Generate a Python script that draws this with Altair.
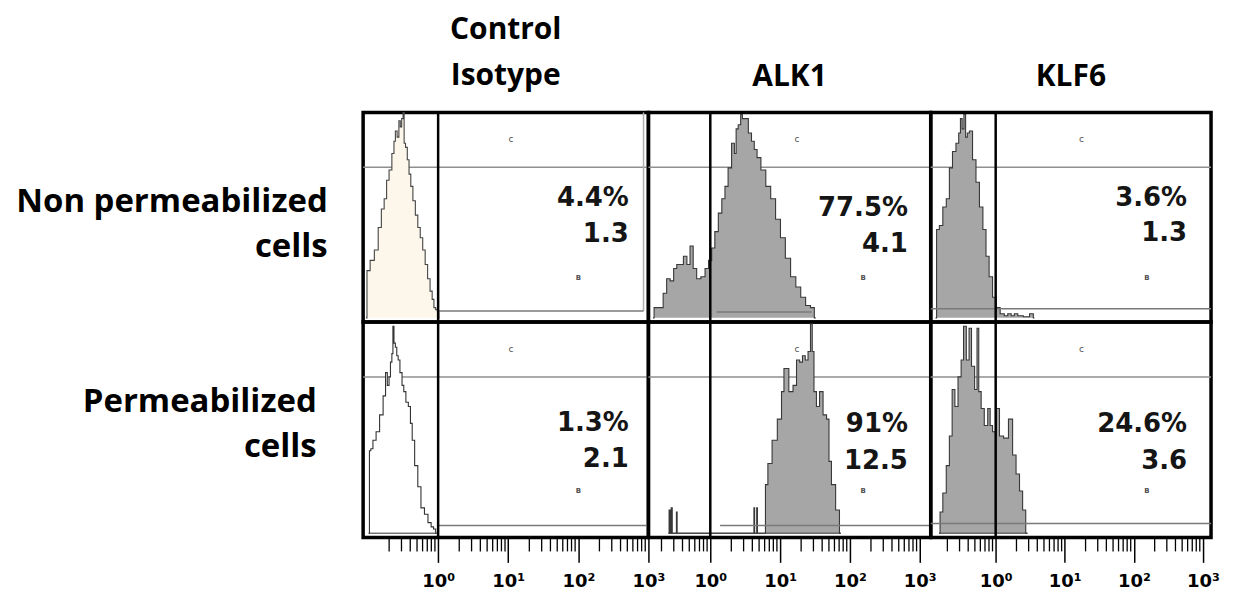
import altair as alt
import pandas as pd

# ---------------- text ----------------
col_titles = [["Control", "Isotype"], "ALK1", "KLF6"]
row_titles = [["Non permeabilized", "cells"], ["Permeabilized", "cells"]]
pct_text = [["4.4%", "77.5%", "3.6%"], ["1.3%", "91%", "24.6%"]]
mfi_text = [["1.3", "4.1", "1.3"], ["2.1", "12.5", "3.6"]]
major_ticks = [1, 10, 100, 1000]
major_labels = ["10\u2070", "10\u00b9", "10\u00b2", "10\u00b3"]
minor_ticks = [0.2, 0.3, 0.4, 0.5, 0.6, 0.7, 0.8, 0.9,
               2, 3, 4, 5, 6, 7, 8, 9,
               20, 30, 40, 50, 60, 70, 80, 90,
               200, 300, 400, 500, 600, 700, 800, 900]

# ---------------- histograms: log10 fluorescence, % of max count ----------------
ctrl_np_log = [-1.03, -1.0, -0.94, -0.88, -0.83, -0.79, -0.75, -0.72, -0.68, -0.64,
               -0.62, -0.60, -0.57, -0.55, -0.53, -0.51, -0.49, -0.48, -0.45, -0.43,
               -0.40, -0.38, -0.34, -0.31, -0.27, -0.24, -0.20, -0.17, -0.13, -0.10,
               -0.07, -0.05, -0.02, 0.0, 0.02]
ctrl_np_cnt = [0, 23, 28, 33, 44, 53, 58, 67, 72, 80,
               86, 91, 88, 96, 93, 97, 100, 85, 83, 77,
               70, 64, 57, 50, 44, 39, 33, 26, 19, 13,
               9, 5, 4, 3, 0]

alk1_np_log = [-0.82, -0.79, -0.70, -0.65, -0.60, -0.55, -0.50, -0.46, -0.41, -0.36,
               -0.31, -0.27, -0.22, -0.17, -0.10, -0.05, 0.0, 0.04, 0.09, 0.14,
               0.19, 0.23, 0.28, 0.33, 0.36, 0.38, 0.42, 0.45, 0.47, 0.52,
               0.57, 0.61, 0.65, 0.69, 0.76, 0.83, 0.90, 0.97, 1.04, 1.11,
               1.19, 1.26, 1.33, 1.40, 1.47, 1.51]
alk1_np_cnt = [0, 5, 5, 12, 19, 18, 24, 26, 26, 30,
               26, 35, 24, 19, 20, 24, 28, 34, 42, 51,
               58, 64, 73, 85, 80, 92, 94, 99, 97, 97,
               90, 86, 82, 78, 72, 64, 58, 48, 39, 29,
               20, 15, 10, 6, 5, 0]

klf6_np_log = [-0.87, -0.84, -0.79, -0.74, -0.69, -0.65, -0.60, -0.55, -0.52, -0.50,
               -0.47, -0.45, -0.42, -0.40, -0.36, -0.31, -0.26, -0.21, -0.16, -0.12,
               -0.07, -0.02, 0.03, 0.10, 0.15, 0.20, 0.25, 0.29, 0.35, 0.45,
               0.53, 0.56]
klf6_np_cnt = [0, 43, 45, 54, 58, 73, 81, 85, 90, 97,
               92, 99, 88, 90, 91, 77, 66, 54, 43, 30,
               20, 10, 5, 2, 1, 2, 1, 2, 1, 0.5,
               2, 0]

ctrl_p_log = [-0.99, -0.97, -0.95, -0.91, -0.86, -0.81, -0.76, -0.74, -0.71, -0.69,
              -0.67, -0.65, -0.64, -0.62, -0.60, -0.58, -0.56, -0.53, -0.50, -0.48,
              -0.44, -0.41, -0.38, -0.36, -0.31, -0.27, -0.22, -0.17, -0.12, -0.08,
              -0.05, -0.02]
ctrl_p_cnt = [0, 39, 40, 44, 48, 56, 65, 76, 70, 74,
              81, 85, 98, 90, 88, 84, 82, 76, 70, 67,
              62, 60, 52, 44, 32, 22, 12, 9, 5, 3,
              2, 0]

alk1_p_log = [-0.60, -0.58, -0.57, -0.55, -0.54, -0.49, -0.48, -0.47, 0.62, 0.63,
              0.64, 0.66, 0.67, 0.68, 0.78, 0.80, 0.85, 0.92, 1.00, 1.04,
              1.07, 1.11, 1.14, 1.16, 1.21, 1.26, 1.30, 1.34, 1.38, 1.42,
              1.45, 1.47, 1.50, 1.54, 1.59, 1.64, 1.69, 1.71, 1.76, 1.83,
              1.87]
alk1_p_cnt = [0, 11, 0, 12, 0, 0, 10, 0, 0, 12,
              0, 0, 12, 0, 0, 23, 33, 44, 54, 67,
              78, 78, 67, 67, 70, 82, 81, 84, 82, 86,
              99, 86, 67, 60, 67, 56, 54, 34, 23, 11,
              0]

klf6_p_log = [-0.82, -0.79, -0.74, -0.69, -0.65, -0.61, -0.57, -0.52, -0.48, -0.45,
              -0.40, -0.37, -0.33, -0.28, -0.26, -0.23, -0.19, -0.14, -0.09, -0.07,
              -0.02, 0.03, 0.08, 0.15, 0.22, 0.27, 0.32, 0.37, 0.41, 0.46]
klf6_p_cnt = [0, 10, 19, 32, 46, 68, 60, 74, 82, 98,
              82, 97, 79, 68, 97, 67, 59, 51, 59, 51,
              48, 59, 46, 45, 54, 37, 28, 20, 11, 0]

hist_log = [[ctrl_np_log, alk1_np_log, klf6_np_log], [ctrl_p_log, alk1_p_log, klf6_p_log]]
hist_cnt = [[ctrl_np_cnt, alk1_np_cnt, klf6_np_cnt], [ctrl_p_cnt, alk1_p_cnt, klf6_p_cnt]]

# ---------------- layout / style ----------------
COL_W = [286, 283, 281]
ROW_H = [210, 216]
COL_LOG = [(-1.07, 3.0), (-0.886, 3.157), (-0.94, 3.117)]
FILL = [["#FDF6EA", "#A6A6A6", "#A6A6A6"], ["#FFFFFF", "#A6A6A6", "#A6A6A6"]]
EDGE = [["#444444", "#383838", "#383838"], ["#333333", "#383838", "#383838"]]
ROW_TX = [-36, -47]
ROW_TY = [89, 80]
C_Y = [73.3, 74.0]
CLAB_X = [1.04, 1.24, 1.24]
CLAB_Y = [86.9, 87.3]
BLAB_X = [2.0, 2.19, 2.19]
BLAB_Y = [19.4, 20.2]
BGATE = [[(0.0, 2.93, 3.3), (0.09, 1.45, 2.9), (-0.94, 3.117, 4.4)],
         [(0.0, 2.97, 3.7), (0.14, 3.157, 3.7), (-0.94, 3.117, 4.6)]]
PCT_X = [2.72, 2.83, 2.77]
PCT_Y = [[58.2, 53.4, 58.2], [52.3, 51.8, 51.8]]
MFI_Y = [[40.7, 35.9, 41.2], [35.3, 34.4, 34.4]]
GATE_GRAY = "#8f8f8f"

label_expr = " : ".join(
    [f"datum.value == {v} ? '{t}'" for v, t in zip(major_ticks[:-1], major_labels[:-1])]
) + f" : '{major_labels[-1]}'"


def panel(r, c):
    w, h = COL_W[c], ROW_H[r]
    lo, hi = COL_LOG[c]
    xs = alt.Scale(type="log", domain=[10 ** lo, 10 ** hi], nice=False)
    ys = alt.Scale(domain=[-2, 100], nice=False, zero=False)
    if r == 1:
        xax = alt.Axis(values=major_ticks, labelExpr=label_expr, tickSize=25, tickWidth=1.5,
                       tickColor="black", domain=False, grid=False, labelFont="DejaVu Sans",
                       labelFontWeight="bold", labelFontSize=18, labelColor="black",
                       labelPadding=10, labelFlush=False, labelOverlap=False, title=None)
    else:
        xax = None
    if c == 0:
        yax = alt.Axis(title=row_titles[r], titleAngle=0, titleAlign="right",
                       titleBaseline="middle", titleX=ROW_TX[r], titleY=ROW_TY[r],
                       titleFont="Open Sans", titleFontSize=33, titleFontWeight="bold",
                       titleColor="black", titleLineHeight=45, ticks=False, labels=False,
                       domain=False, grid=False)
    else:
        yax = None

    def xe():
        return alt.X("x:Q", scale=xs, axis=xax)

    def ye():
        return alt.Y("y:Q", scale=ys, axis=yax)

    layers = []
    # upper gate line (behind histogram)
    layers.append(alt.Chart(pd.DataFrame({"y": [C_Y[r]]})).mark_rule(
        color=GATE_GRAY, strokeWidth=1.5).encode(y=ye()))
    b0, b1, bl = BGATE[r][c]
    if r == 0 and c == 0:
        layers.append(alt.Chart(pd.DataFrame({"x": [10 ** 2.93], "y": [bl], "y2": [100]})).mark_rule(
            color="#b0b0b0", strokeWidth=1.5).encode(x=xe(), y=ye(), y2="y2:Q"))
    # histogram
    hd = pd.DataFrame({"x": [10 ** v for v in hist_log[r][c]], "y": hist_cnt[r][c]})
    hd["y0"] = 0
    layers.append(alt.Chart(hd).mark_area(interpolate="step", color=FILL[r][c], opacity=1).encode(
        x=xe(), y=ye(), y2="y0:Q"))
    layers.append(alt.Chart(hd).mark_line(interpolate="step", color=EDGE[r][c], strokeWidth=1.1).encode(
        x=xe(), y=ye()))
    if r == 1:
        layers.append(alt.Chart(pd.DataFrame({"x": [hd["x"].min()], "x2": [hd["x"].max()], "y": [0]})).mark_rule(
            color=EDGE[r][c], strokeWidth=1).encode(x=xe(), x2="x2:Q", y=ye()))
    # lower gate line (over histogram)
    layers.append(alt.Chart(pd.DataFrame({"x": [10 ** b0], "x2": [10 ** b1], "y": [bl]})).mark_rule(
        color="#7a7a7a", strokeWidth=1.5).encode(x=xe(), x2="x2:Q", y=ye()))
    # 10^0 marker
    layers.append(alt.Chart(pd.DataFrame({"x": [1]})).mark_rule(color="black", strokeWidth=2.5).encode(x=xe()))
    # gate letters
    layers.append(alt.Chart(pd.DataFrame({"x": [10 ** CLAB_X[c]], "y": [CLAB_Y[r]], "t": ["c"]})).mark_text(
        font="DejaVu Sans", fontSize=9, color="#505050").encode(x=xe(), y=ye(), text="t:N"))
    layers.append(alt.Chart(pd.DataFrame({"x": [10 ** BLAB_X[c]], "y": [BLAB_Y[r]], "t": ["B"]})).mark_text(
        font="DejaVu Sans", fontSize=7, fontWeight="bold", color="#505050").encode(x=xe(), y=ye(), text="t:N"))
    # numbers
    td = pd.DataFrame({"x": [10 ** PCT_X[c]] * 2, "y": [PCT_Y[r][c], MFI_Y[r][c]],
                       "t": [pct_text[r][c], mfi_text[r][c]]})
    layers.append(alt.Chart(td).mark_text(align="right", baseline="middle", font="DejaVu Sans",
                                         fontWeight="bold", fontSize=26, color="#151515").encode(
        x=xe(), y=ye(), text="t:N"))
    if r == 1:
        layers.append(alt.Chart(pd.DataFrame({"x": minor_ticks})).mark_rule(
            color="black", strokeWidth=1.3).encode(x=xe(), y=alt.value(h), y2=alt.value(h + 14)))

    ch = alt.layer(*layers).properties(width=w, height=h)
    if r == 0:
        ch = ch.properties(title=alt.TitleParams(
            text=col_titles[c], font="Open Sans", fontSize=30, fontWeight="bold", color="black",
            anchor="middle", baseline="alphabetic", offset=-5, lineHeight=46))
    return ch


panels = [panel(r, c) for r in range(2) for c in range(3)]
chart = alt.concat(*panels, columns=3, spacing=0, bounds="flush", align="each").configure_view(
    stroke="black", strokeWidth=3.5)

chart.save("out.html", embed_options={"renderer": "svg", "actions": False})
